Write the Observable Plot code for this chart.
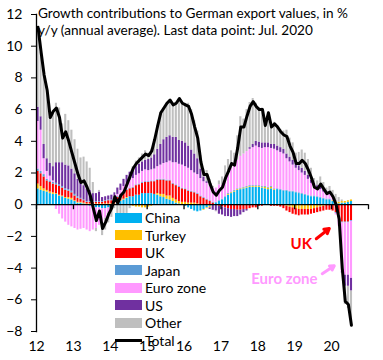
<!DOCTYPE html>
<html><head><meta charset="utf-8">
<script src="https://cdn.jsdelivr.net/npm/d3@7"></script>
<script src="https://cdn.jsdelivr.net/npm/@observablehq/plot@0.6"></script>
<style>
body{margin:0;background:#fff;}
#wrap{position:relative;width:383px;height:360px;font-family:Lato, sans-serif;color:#000;}
#title{position:absolute;left:38px;top:5px;font-size:13.6px;line-height:17px;white-space:nowrap;}
#legend{position:absolute;left:115px;top:209px;font-size:14px;line-height:17.5px;}
.row{display:flex;align-items:center;height:17.5px;}
.sw{width:27px;height:10px;margin-right:3px;}
.ln{width:27px;height:3px;margin-right:3px;background:#000;}
</style></head><body><div id="wrap"><div id="title">Growth contributions to German export values, in %<br>y/y (annual average). Last data point: Jul. 2020</div><div id="legend"></div></div>
<script>
const series = ["China","Turkey","UK","Japan","Euro zone","US","Other"];
const colors = ["#00B0F0","#FFC000","#FF0000","#5B9BD5","#FF99FF","#7030A0","#BFBFBF"];
const labelYears = [2012,2013,2014,2015,2016,2017,2018,2019,2020];
const tickYears = [2012,2013,2014,2015,2016,2017,2018,2019,2020,2021];
const yTicks = [-8,-6,-4,-2,0,2,4,6,8,10,12];

const china = [1.0,0.9,0.85,0.8,0.7,0.65,0.65,0.55,0.5,0.4,0.35,0.3,
0.2,0.1,0.1,0.05,0.0,-0.1,-0.1,-0.2,-0.2,-0.25,-0.25,-0.2,
-0.1,0.0,0.1,0.2,0.3,0.4,0.5,0.5,0.6,0.6,0.7,0.7,
0.7,0.7,0.65,0.6,0.5,0.45,0.35,0.3,0.2,0.1,0.05,-0.05,
-0.1,-0.2,-0.3,-0.4,-0.45,-0.4,-0.3,-0.2,-0.1,0.0,0.1,0.2,
0.3,0.45,0.6,0.7,0.8,0.9,0.95,1.0,1.05,1.1,1.1,1.1,
1.1,1.05,1.0,0.95,1.0,0.9,0.95,0.9,0.85,0.85,0.8,0.8,
0.75,0.7,0.65,0.6,0.55,0.5,0.5,0.45,0.4,0.35,0.3,0.3,
0.2,0.1,0.05,0.1,0.1,0.15,0.2];
const turkey = [0.3,0.25,0.15,0.1,0.1,0.1,0.05,0.05,0.05,0.05,0.1,0.1,
0.05,0.05,0.05,0.05,0.05,0.05,0.05,0.05,0.05,0.05,0.05,0.05,
0.05,0.05,0.05,0.05,0.05,0.05,-0.05,-0.1,-0.15,-0.15,-0.2,-0.2,
-0.15,-0.1,0.0,0.1,0.15,0.2,0.2,0.25,0.2,0.2,0.15,0.15,
0.15,0.1,0.1,0.1,0.05,0.0,-0.05,-0.05,-0.1,-0.05,0.0,0.0,
0.0,0.0,0.05,0.05,0.05,0.05,0.05,0.05,0.05,0.05,0.05,0.05,
0.05,0.05,0.1,0.1,0.1,0.05,0.0,0.0,-0.05,-0.1,-0.15,-0.2,
-0.25,-0.3,-0.3,-0.3,-0.3,-0.3,-0.25,-0.2,-0.15,-0.1,-0.05,0.0,
0.05,0.1,0.1,0.1,0.1,0.1,0.1];
const uk = [0.8,0.8,0.75,0.6,0.6,0.55,0.55,0.55,0.5,0.45,0.4,0.35,
0.3,0.25,0.2,0.15,0.1,0.1,0.1,0.1,0.1,0.1,0.15,0.2,
0.2,0.25,0.3,0.35,0.4,0.45,0.5,0.55,0.6,0.65,0.65,0.7,
0.7,0.75,0.8,0.85,0.9,0.9,0.95,0.95,0.9,0.9,0.9,0.85,
0.8,0.75,0.7,0.65,0.6,0.5,0.4,0.3,0.2,0.1,0.0,-0.1,
-0.15,-0.2,-0.25,-0.3,-0.3,-0.35,-0.35,-0.3,-0.3,-0.25,-0.2,-0.2,
-0.1,-0.1,-0.05,-0.05,-0.1,-0.1,-0.1,-0.15,-0.2,-0.3,-0.35,-0.4,
-0.4,-0.4,-0.35,-0.35,-0.35,-0.3,-0.3,-0.3,-0.3,-0.3,-0.3,-0.35,
-0.4,-0.5,-0.6,-1.1,-1.1,-1.1,-1.0];
const japan = [0.15,0.15,0.15,0.1,0.1,0.1,0.1,0.1,0.1,0.1,0.1,0.1,
0.1,0.1,0.05,0.05,0.05,0.05,0.05,0.05,0.05,0.05,0.05,0.05,
0.05,0.05,0.05,0.05,0.05,0.05,0.05,0.05,0.05,0.05,0.05,0.05,
0.05,0.05,0.05,0.05,0.05,0.05,0.05,0.05,0.05,0.05,0.05,0.05,
0.05,0.05,0.05,0.05,0.05,0.05,0.05,0.05,0.05,0.05,0.05,0.05,
0.05,0.05,0.05,0.05,0.05,0.05,0.05,0.05,0.05,0.05,0.05,0.05,
0.05,0.05,0.05,0.05,0.05,0.05,0.05,0.05,0.05,0.05,0.05,0.05,
0.05,0.05,0.05,0.05,0.05,0.05,0.05,0.05,0.05,0.05,0.05,0.05,
0.0,-0.05,-0.05,-0.05,-0.05,-0.05,-0.05];
const euro = [3.0,2.6,1.0,0.5,0.3,0.1,-0.3,-0.6,-0.9,-1.1,-1.3,-1.4,
-1.5,-1.6,-1.55,-1.5,-1.6,-1.6,-1.5,-1.3,-1.1,-0.9,-0.6,-0.35,
-0.15,0.05,0.15,0.25,0.35,0.4,0.5,0.55,0.6,0.65,0.7,0.75,
0.7,0.7,0.75,0.8,0.9,1.0,1.1,1.2,1.3,1.4,1.4,1.45,
1.4,1.4,1.3,1.2,1.2,1.1,1.0,1.0,0.9,0.9,0.9,1.0,
0.9,1.1,1.3,1.5,1.6,1.8,2.0,2.1,2.2,2.3,2.4,2.5,
2.4,2.4,2.45,2.5,2.4,2.5,2.4,2.35,2.3,2.0,1.85,1.65,
1.5,1.4,1.3,1.2,1.0,0.8,0.6,0.5,0.5,0.4,0.35,0.3,
0.2,-0.1,-0.7,-3.1,-3.3,-3.3,-3.6];
const us = [0.9,0.85,0.9,0.8,0.8,0.9,1.3,1.4,1.5,1.5,1.5,1.4,
1.3,1.1,1.0,0.9,0.8,0.7,0.5,0.5,0.6,0.25,0.25,0.25,
0.3,0.35,0.4,0.4,0.45,0.5,0.5,0.5,0.55,0.6,0.6,0.6,
0.7,0.75,0.9,1.1,1.3,1.5,1.6,1.6,1.6,1.6,1.5,1.5,
1.5,1.4,1.3,1.2,1.0,0.6,0.3,0.1,-0.1,-0.3,-0.4,-0.5,
-0.5,-0.55,-0.5,-0.5,-0.45,-0.4,-0.3,-0.2,-0.1,0.1,0.2,0.3,
0.35,0.35,0.3,0.3,0.25,0.3,0.3,0.3,0.3,0.3,0.3,0.3,
0.3,0.3,0.3,0.25,0.25,0.2,0.2,0.2,0.15,0.15,0.1,0.1,
0.1,0.05,0.0,-0.05,-0.7,-0.7,-0.8];
const other = [5.05,4.05,4.4,4.3,2.9,3.5,3.75,3.45,2.45,3.2,2.85,2.45,
2.15,1.9,1.55,1.8,1.7,1.4,0.7,-0.2,0.1,-0.8,-0.75,-0.6,
-0.55,-0.25,-0.95,-0.7,-0.8,-0.55,-0.2,0.25,0.35,0.4,0.5,0.6,
0.4,0.55,0.95,1.5,2.0,2.0,2.15,2.25,2.05,2.15,2.65,2.45,
2.5,2.7,2.55,2.1,1.75,0.85,0.5,0.7,0.45,0.1,-0.05,0.25,
0.5,0.85,0.85,1.1,0.75,1.55,2.5,2.2,2.65,2.85,2.9,2.4,
2.15,2.2,1.15,1.95,1.2,1.4,1.3,1.15,1.15,1.5,1.2,1.1,
0.65,0.85,1.15,1.15,1.0,0.75,0.3,0.3,0.65,0.45,0.25,0.4,
0.35,0.4,0.3,0.1,-1.15,-1.4,-1.9];
const total = [11.2,9.6,8.2,7.2,5.5,5.9,6.1,5.5,4.2,4.6,4.0,3.3,
2.6,1.9,1.4,1.5,1.1,0.6,-0.2,-1.0,-0.4,-1.5,-1.1,-0.6,
-0.2,0.5,0.1,0.6,0.8,1.3,1.8,2.3,2.6,2.8,3.0,3.2,
3.1,3.4,4.1,5.0,5.8,6.1,6.4,6.6,6.3,6.4,6.7,6.4,
6.3,6.2,5.7,4.9,4.2,2.7,1.9,1.9,1.3,0.8,0.6,0.9,
1.1,1.7,2.1,2.6,2.5,3.6,4.9,4.9,5.6,6.2,6.5,6.2,
6.0,6.0,5.0,5.8,4.9,5.1,4.9,4.6,4.4,4.3,3.7,3.3,
2.6,2.6,2.8,2.6,2.2,1.7,1.1,1.0,1.3,1.0,0.7,0.8,
0.5,0.0,-0.9,-4.0,-6.1,-6.3,-7.6];

const notes = [
  {text: "UK", date: new Date(Date.UTC(2019,2,7)), value: -2.52, color: "#FF0000"},
  {text: "Euro zone", date: new Date(Date.UTC(2018,8,21)), value: -4.73, color: "#FF99FF"}
];
const arrows = [
  {d1: new Date(Date.UTC(2019,7,3)), v1: -2.15, d2: new Date(Date.UTC(2019,11,10)), v2: -1.5, color: "#FF0000"},
  {d1: new Date(Date.UTC(2019,9,1)), v1: -4.35, d2: new Date(Date.UTC(2020,0,28)), v2: -3.85, color: "#FF99FF"}
];

const values = [china, turkey, uk, japan, euro, us, other];
const months = d3.utcMonth.range(new Date(Date.UTC(2012,0,1)), new Date(Date.UTC(2020,7,1)));
const rows = [];
months.forEach((m, i) => series.forEach((s, k) => rows.push({date: m, series: s, value: values[k][i]})));
const totalRows = months.map((m, i) => ({date: d3.utcDay.offset(m, 15), value: total[i]}));
const ticks = tickYears.map(y => new Date(Date.UTC(y,0,1)));
const labels = labelYears.map(y => new Date(Date.UTC(y,0,1)));

const chart = Plot.plot({
  width: 383, height: 360,
  marginLeft: 36, marginRight: 15, marginTop: 14, marginBottom: 29,
  style: {fontFamily: "Lato, sans-serif", fontSize: "14px", color: "#000", background: "transparent", overflow: "visible"},
  x: {type: "utc", domain: [ticks[0], ticks[ticks.length - 1]]},
  y: {domain: [-8, 12]},
  color: {domain: series, range: colors},
  marks: [
    Plot.rectY(rows, {x: "date", interval: d3.utcMonth, y: "value", fill: "series", insetLeft: 0.5, insetRight: 0.5}),
    Plot.ruleY([0], {stroke: "#000", strokeWidth: 1.3}),
    Plot.ruleX(ticks, {x: d => d, y1: 0, y2: 0, insetBottom: -5, stroke: "#000", strokeWidth: 1.3}),
    Plot.line(totalRows, {x: "date", y: "value", stroke: "#000", strokeWidth: 3, strokeLinejoin: "round"}),
    Plot.frame({anchor: "left", stroke: "#000", strokeWidth: 1.3}),
    Plot.axisY({ticks: yTicks, tickSize: 5, tickPadding: 9, label: null, fontSize: 14}),
    Plot.axisX({ticks: labels, tickFormat: d3.utcFormat("%y"), tickSize: 0, tickPadding: 10, label: null, fontSize: 14}),
    Plot.arrow(arrows, {x1: "d1", y1: "v1", x2: "d2", y2: "v2", stroke: "color", strokeWidth: 3, headLength: 9}),
    Plot.text(notes, {x: "date", y: "value", text: "text", fill: "color", fontWeight: "bold", fontSize: 15})
  ]
});
document.getElementById("wrap").prepend(chart);

const legend = document.getElementById("legend");
series.forEach((s, k) => {
  const r = document.createElement("div"); r.className = "row";
  r.innerHTML = `<div class="sw" style="background:${colors[k]}"></div><span>${s}</span>`;
  legend.appendChild(r);
});
const tr = document.createElement("div"); tr.className = "row";
tr.innerHTML = `<div class="ln"></div><span>Total</span>`;
legend.appendChild(tr);
</script></body></html>
